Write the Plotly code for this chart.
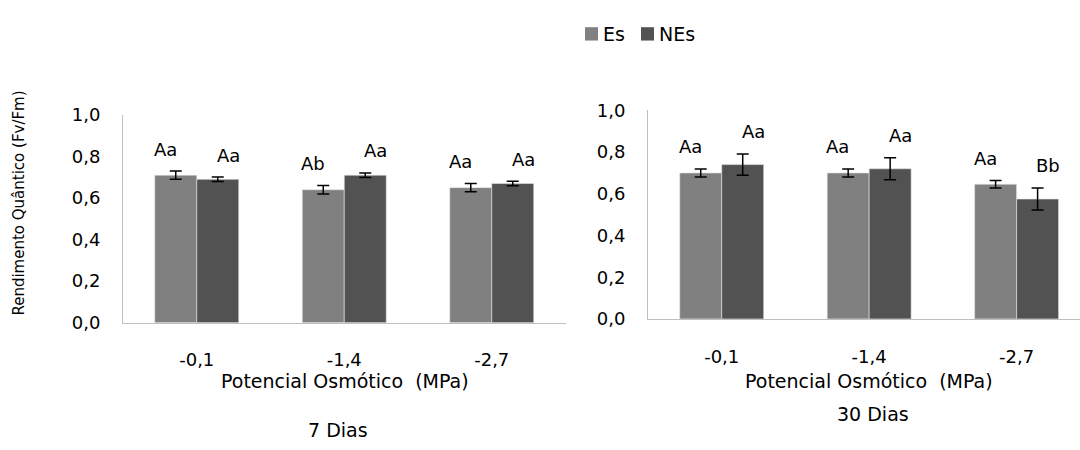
import plotly.graph_objects as go

# Osmotic potential levels (MPa)
categories = ["-0,1", "-1,4", "-2,7"]

# Quantum yield (Fv/Fm) after 7 days
es_7 = [0.71, 0.64, 0.65]
es_7_err = [0.02, 0.02, 0.02]
nes_7 = [0.69, 0.71, 0.67]
nes_7_err = [0.011, 0.011, 0.011]

# Quantum yield (Fv/Fm) after 30 days
es_30 = [0.70, 0.70, 0.646]
es_30_err = [0.019, 0.019, 0.018]
nes_30 = [0.74, 0.72, 0.575]
nes_30_err = [0.051, 0.053, 0.053]

# Significance letters
letters_es_7 = ["Aa", "Ab", "Aa"]
letters_nes_7 = ["Aa", "Aa", "Aa"]
letters_es_30 = ["Aa", "Aa", "Aa"]
letters_nes_30 = ["Aa", "Aa", "Bb"]

series_names = ["Es", "NEs"]

ytick_vals = [0, 0.2, 0.4, 0.6, 0.8, 1.0]
ytick_text = ["0,0", "0,2", "0,4", "0,6", "0,8", "1,0"]

FONT = "DejaVu Sans"
ES_COLOR = "#808080"
NES_COLOR = "#525252"
AXIS_COLOR = "#bfbfbf"
W, H = 1080, 450

fig = go.Figure()

err_style = dict(type="data", visible=True, color="black", thickness=1.5, width=6)
edge = dict(color="rgba(230,230,230,0.8)", width=0.75)

panels = [
    ("x", "y", es_7, es_7_err, nes_7, nes_7_err),
    ("x2", "y2", es_30, es_30_err, nes_30, nes_30_err),
]
for xa, ya, es, es_e, nes, nes_e in panels:
    fig.add_trace(go.Bar(
        x=categories, y=es, name=series_names[0],
        marker=dict(color=ES_COLOR, line=edge),
        error_y=dict(array=es_e, **err_style),
        xaxis=xa, yaxis=ya, showlegend=False, offsetgroup="Es",
    ))
    fig.add_trace(go.Bar(
        x=categories, y=nes, name=series_names[1],
        marker=dict(color=NES_COLOR, line=edge),
        error_y=dict(array=nes_e, **err_style),
        xaxis=xa, yaxis=ya, showlegend=False, offsetgroup="NEs",
    ))

# Letters above each bar (placed over the error bar top)
annotations = []
label_sets = [
    ("x", "y", es_7, es_7_err, letters_es_7, -0.2142),
    ("x", "y", nes_7, nes_7_err, letters_nes_7, 0.2142),
    ("x2", "y2", es_30, es_30_err, letters_es_30, -0.2142),
    ("x2", "y2", nes_30, nes_30_err, letters_nes_30, 0.2142),
]
for xa, ya, vals, errs, letters, off in label_sets:
    for i, (v, e, t) in enumerate(zip(vals, errs, letters)):
        annotations.append(dict(
            x=i + off, y=v + e, xref=xa, yref=ya, text=t, showarrow=False,
            yanchor="middle", yshift=22, font=dict(size=18, color="black", family=FONT),
        ))

# Axis titles and panel captions
cap_font = dict(size=19, color="black", family=FONT)
annotations += [
    dict(x=344.5 / W, y=1 - 388 / H, xref="paper", yref="paper",
         text="Potencial Osmótico\u00a0 (MPa)", showarrow=False, font=cap_font,
         xanchor="center", yanchor="middle"),
    dict(x=338 / W, y=1 - 440 / H, xref="paper", yref="paper",
         text="7 Dias", showarrow=False, font=cap_font, xanchor="center", yanchor="middle"),
    dict(x=869 / W, y=1 - 388 / H, xref="paper", yref="paper",
         text="Potencial Osmótico\u00a0 (MPa)", showarrow=False, font=cap_font,
         xanchor="center", yanchor="middle"),
    dict(x=873 / W, y=1 - 423 / H, xref="paper", yref="paper",
         text="30 Dias", showarrow=False, font=cap_font, xanchor="center", yanchor="middle"),
    dict(x=19 / W, y=1 - 202 / H, xref="paper", yref="paper",
         text="Rendimento Quântico (Fv/Fm)", showarrow=False, textangle=-90,
         font=dict(size=15, color="black", family=FONT), xanchor="center", yanchor="middle"),
]

# Compact legend: colour swatch followed directly by the series name
shapes = []
legend_items = [(series_names[0], ES_COLOR, 585), (series_names[1], NES_COLOR, 641)]
for name, color, x0 in legend_items:
    shapes.append(dict(type="rect", xref="paper", yref="paper",
                       x0=x0 / W, x1=(x0 + 13) / W, y0=1 - 31 / H, y1=1 - 17 / H,
                       fillcolor=color, line=dict(width=0)))
    annotations.append(dict(x=(x0 + 16) / W, y=1 - 24 / H, xref="paper", yref="paper",
                            text=name, showarrow=False, xanchor="left", yanchor="middle",
                            font=dict(size=19, color="black", family=FONT)))

common_x = dict(
    type="category", showline=True, linecolor=AXIS_COLOR, linewidth=1,
    showgrid=False, zeroline=False, ticks="", ticklabelstandoff=21,
    tickfont=dict(size=18, color="black", family=FONT),
)
common_y = dict(
    range=[0, 1.0], tickvals=ytick_vals, ticktext=ytick_text,
    showline=True, linecolor=AXIS_COLOR, linewidth=1, showgrid=False,
    zeroline=False, ticks="", ticklabelstandoff=18,
    tickfont=dict(size=18, color="black", family=FONT),
)

fig.update_layout(
    width=W, height=H,
    margin=dict(l=0, r=0, t=0, b=0),
    paper_bgcolor="white", plot_bgcolor="white",
    barmode="group", bargap=0.4305, bargroupgap=0,
    font=dict(family=FONT, size=18, color="black"),
    xaxis=dict(domain=[123 / W, 565.5 / W], range=[-0.5, 2.5], anchor="y", **common_x),
    yaxis=dict(domain=[1 - 327 / H, 1 - 109 / H], anchor="x", **common_y),
    xaxis2=dict(domain=[648 / W, 1.0], range=[-0.5, 2.43], anchor="y2", **common_x),
    yaxis2=dict(domain=[1 - 323 / H, 1 - 104.25 / H], anchor="x2", **common_y),
    annotations=annotations,
    shapes=shapes,
    showlegend=False,
)

fig.write_html("out.html")
